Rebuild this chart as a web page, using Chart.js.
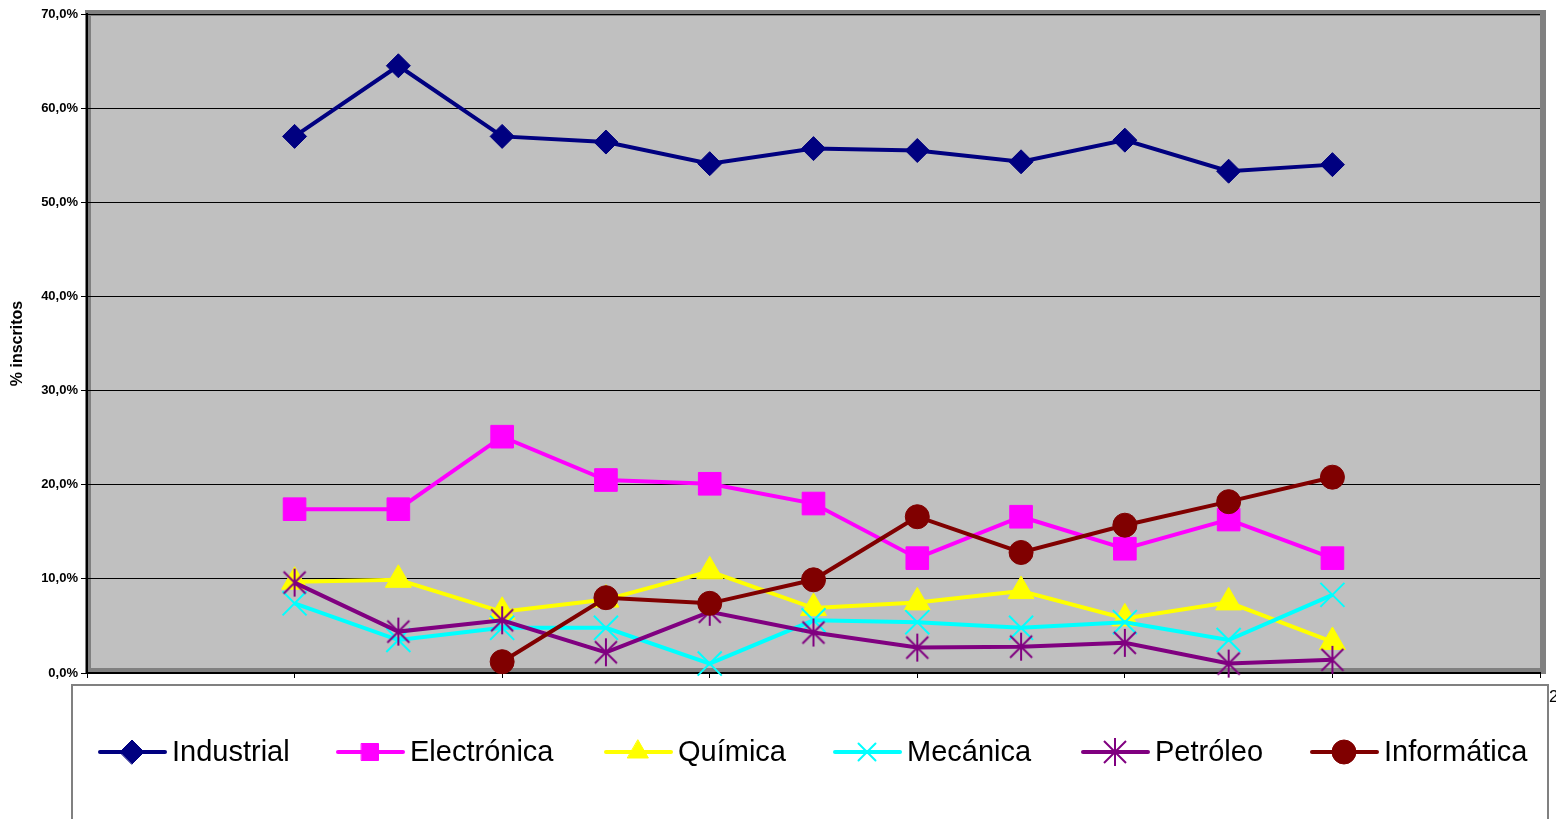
<!DOCTYPE html>
<html>
<head>
<meta charset="utf-8">
<script src="https://cdn.jsdelivr.net/npm/chart.js@4/dist/chart.umd.min.js"></script>
<style>
  html, body { margin: 0; padding: 0; background: #fff; }
  #wrap { width: 1556px; height: 819px; }
</style>
</head>
<body>
<div id="wrap"><canvas id="chart" width="1556" height="819"></canvas></div>
<script>
// periods on the x axis (labels are hidden in the original)
const categories = ['', '', '1', '2', '3', '4', '5', '6', '7', '8', '9', '10', '11', '', ''];
const yTicks = [0, 10, 20, 30, 40, 50, 60, 70];

const industrial  = [57.0, 64.5, 57.0, 56.4, 54.1, 55.7, 55.5, 54.3, 56.6, 53.3, 54.0];
const electronica = [17.4, 17.4, 25.1, 20.5, 20.1, 18.0, 12.2, 16.6, 13.2, 16.3, 12.2];
const quimica     = [9.7, 9.9, 6.5, 7.8, 10.8, 6.9, 7.5, 8.7, 5.8, 7.5, 3.3];
const mecanica    = [7.4, 3.5, 4.8, 4.8, 1.0, 5.6, 5.4, 4.8, 5.4, 3.5, 8.3];
const petroleo    = [9.6, 4.4, 5.6, 2.2, 6.5, 4.3, 2.7, 2.8, 3.2, 1.0, 1.4];
const informatica = [null, null, 1.2, 8.0, 7.4, 9.9, 16.6, 12.8, 15.7, 18.2, 20.8];

const pad = arr => [null, null, ...arr, null, null];

// excel style asterisk: vertical bar plus an X
function asterisk(color) {
  const c = document.createElement('canvas');
  c.width = 30; c.height = 30;
  const g = c.getContext('2d');
  g.strokeStyle = color;
  g.lineWidth = 2;
  g.beginPath();
  g.moveTo(15, 1); g.lineTo(15, 29);
  g.moveTo(4, 4); g.lineTo(26, 26);
  g.moveTo(26, 4); g.lineTo(4, 26);
  g.stroke();
  return c;
}

const series = [
  { label: 'Industrial',  data: industrial,  color: '#000080', style: 'rectRot',  r: 12 },
  { label: 'Electrónica', data: electronica, color: '#FF00FF', style: 'rect',     r: 16 },
  { label: 'Química',     data: quimica,     color: '#FFFF00', style: 'triangle', r: 15 },
  { label: 'Mecánica',    data: mecanica,    color: '#00FFFF', style: 'crossRot', r: 17 },
  { label: 'Petróleo',    data: petroleo,    color: '#800080', style: asterisk('#800080'), r: 15 },
  { label: 'Informática', data: informatica, color: '#800000', style: 'circle',   r: 12 }
];

const isStroke = s => s === 'crossRot' || typeof s !== 'string';

const plotBg = {
  id: 'plotBg',
  beforeDraw(chart) {
    const { ctx, chartArea: a } = chart;
    ctx.save();
    ctx.fillStyle = '#C0C0C0';
    ctx.fillRect(a.left, a.top, a.right - a.left, a.bottom - a.top);
    ctx.strokeStyle = '#808080';
    ctx.lineWidth = 6;
    ctx.strokeRect(a.left + 1, a.top - 1, a.right - a.left + 2, a.bottom - a.top - 1);
    ctx.restore();
  }
};

const boxLegend = {
  id: 'boxLegend',
  afterDraw(chart) {
    const { ctx } = chart;
    ctx.save();
    ctx.fillStyle = '#fff';
    ctx.fillRect(72, 685, 1476, 140);
    ctx.strokeStyle = '#808080';
    ctx.lineWidth = 2;
    ctx.strokeRect(72, 685, 1476, 140);
    const starts = [100, 338, 606, 835, 1083, 1312];
    const y = 752;
    ctx.font = '29px "Liberation Sans", Arial, sans-serif';
    ctx.textBaseline = 'middle';
    series.forEach((s, i) => {
      const x = starts[i];
      ctx.strokeStyle = s.color;
      ctx.lineWidth = 4;
      ctx.lineCap = 'round';
      ctx.beginPath();
      ctx.moveTo(x, y);
      ctx.lineTo(x + 65, y);
      ctx.stroke();
      ctx.fillStyle = s.color;
      ctx.lineWidth = isStroke(s.style) ? 2 : 1;
      const r = Math.min(s.r, 12);
      Chart.helpers.drawPoint(ctx, { pointStyle: s.style, radius: r, rotation: 0, borderWidth: ctx.lineWidth }, x + 32, y);
      ctx.fillStyle = '#000';
      ctx.fillText(s.label, x + 72, y + 1);
    });
    // clipped x label peeking out at the right of the legend box
    ctx.font = '17px "Liberation Sans", Arial, sans-serif';
    ctx.fillText('2', 1549, 697);
    ctx.restore();
  }
};

new Chart(document.getElementById('chart'), {
  type: 'line',
  data: {
    labels: categories,
    datasets: series.map((s, i) => ({
      label: s.label,
      data: pad(s.data),
      borderColor: s.color,
      backgroundColor: s.color,
      borderWidth: 4,
      pointStyle: s.style,
      pointRadius: s.r,
      pointHoverRadius: s.r,
      pointBorderWidth: isStroke(s.style) ? 2 : 1,
      tension: 0,
      spanGaps: false,
      clip: 20,
      order: 5 - i
    }))
  },
  options: {
    responsive: false,
    animation: false,
    events: [],
    layout: { autoPadding: false, padding: { left: 0, right: 16, top: 14, bottom: 0 } },
    plugins: { legend: { display: false }, tooltip: { enabled: false } },
    scales: {
      x: {
        offset: false,
        afterFit(scale) { scale.height = 146; },
        border: { color: '#000', width: 2 },
        grid: {
          drawOnChartArea: false,
          drawTicks: true,
          tickLength: 5,
          color: c => (c.index % 2 === 0 ? '#000' : 'rgba(0,0,0,0)')
        },
        ticks: { display: false, autoSkip: false }
      },
      y: {
        min: 0,
        max: 70,
        afterFit(scale) { scale.width = 87; },
        afterBuildTicks(scale) { scale.ticks = yTicks.map(v => ({ value: v })); },
        border: { color: '#000', width: 2 },
        grid: { color: '#000', lineWidth: 1, tickLength: 6 },
        ticks: {
          color: '#000',
          padding: 3,
          font: { family: '"Liberation Sans", Arial, sans-serif', size: 13, weight: 'bold' },
          callback: v => v.toFixed(1).replace('.', ',') + '%'
        },
        title: {
          display: true,
          text: '% inscritos',
          color: '#000',
          padding: { top: 8, bottom: 0 },
          font: { family: '"Liberation Sans", Arial, sans-serif', size: 16, weight: 'bold' }
        }
      }
    }
  },
  plugins: [plotBg, boxLegend]
});
</script>
</body>
</html>
